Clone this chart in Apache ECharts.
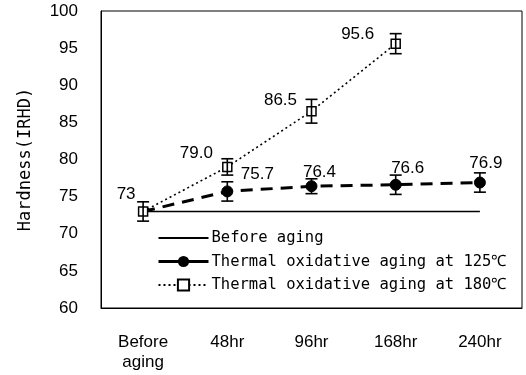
<!DOCTYPE html>
<html>
<head>
<meta charset="utf-8">
<script src="https://cdn.jsdelivr.net/npm/echarts@6/dist/echarts.min.js"></script>
<style>
  html, body { margin: 0; padding: 0; background: #fff; }
  #chart { width: 526px; height: 375px; }
</style>
</head>
<body>
<div id="chart"></div>
<script>
  // data
  var categories = ['Before\naging', '48hr', '96hr', '168hr', '240hr'];
  var before = [73, 73, 73, 73, 73];
  var aging125 = [73, 75.7, 76.4, 76.6, 76.9];
  var aging180 = [73, 79.0, 86.5, 95.6, null];
  var err125 = [1.3, 1.3, 1.0, 1.3, 1.3];
  var err180 = [1.3, 1.1, 1.6, 1.35, null];
  var yTicks = [60, 65, 70, 75, 80, 85, 90, 95, 100];

  // label placement (style, not data)
  var off125 = [null, [30, 2], [8, 6], [12, 3], [6, 0]];
  var off180 = [[-17, 2], [-31, 5], [-31, 8], [-38, 9], null];

  var chart = echarts.init(document.getElementById('chart'));
  var numFont = 'Liberation Sans, Arial, sans-serif';
  var txtFont = 'DejaVu Sans Mono, monospace';

  function errData(vals, errs, skipFirst) {
    var out = [];
    for (var i = 0; i < vals.length; i++) {
      if (vals[i] == null || errs[i] == null) continue;
      if (skipFirst && i === 0) continue;
      out.push([i, vals[i] - errs[i], vals[i] + errs[i]]);
    }
    return out;
  }

  function renderErr(params, api) {
    var lo = api.coord([api.value(0), api.value(1)]);
    var hi = api.coord([api.value(0), api.value(2)]);
    var w = 6;
    var st = { stroke: '#000', lineWidth: 1.6 };
    return {
      type: 'group',
      children: [
        { type: 'line', shape: { x1: lo[0], y1: lo[1], x2: hi[0], y2: hi[1] }, style: st },
        { type: 'line', shape: { x1: lo[0] - w, y1: lo[1], x2: lo[0] + w, y2: lo[1] }, style: st },
        { type: 'line', shape: { x1: hi[0] - w, y1: hi[1], x2: hi[0] + w, y2: hi[1] }, style: st }
      ]
    };
  }

  function labelled(vals, offs, digits0) {
    return vals.map(function (v, i) {
      if (v == null) return null;
      var o = offs[i];
      if (!o) return { value: v, label: { show: false } };
      return {
        value: v,
        label: {
          show: true, position: 'top', offset: o,
          formatter: (i === 0 && digits0) ? String(v) : v.toFixed(1)
        }
      };
    });
  }

  var option = {
    animation: false,
    backgroundColor: '#fff',
    grid: { left: 101, right: 4, top: 11, bottom: 67, show: true, borderColor: '#000', borderWidth: 1 },
    legend: {
      orient: 'vertical',
      left: 157, top: 230, padding: 0,
      itemWidth: 50, itemHeight: 14, itemGap: 7.5,
      textStyle: { fontFamily: txtFont, fontSize: 15.5, color: '#000', padding: [0, 0, 0, -2] },
      data: [
        { name: 'Before aging', itemStyle: { opacity: 0 } },
        { name: 'Thermal oxidative aging at 125\u2103', lineStyle: { type: 'solid', width: 3 } },
        'Thermal oxidative aging at 180\u2103'
      ]
    },
    xAxis: {
      type: 'category',
      data: categories,
      boundaryGap: true,
      axisLine: { lineStyle: { color: '#000', width: 1 } },
      axisTick: { inside: true, length: 5, lineStyle: { color: '#000' } },
      axisLabel: { margin: 24, fontFamily: numFont, fontSize: 17, color: '#000', lineHeight: 20, interval: 0 }
    },
    yAxis: {
      type: 'value',
      min: yTicks[0], max: yTicks[yTicks.length - 1], interval: 5,
      name: 'Hardness(IRHD)',
      nameLocation: 'middle', nameGap: 67,
      nameTextStyle: { fontFamily: txtFont, fontSize: 17, color: '#000' },
      axisLine: { show: true, lineStyle: { color: '#000', width: 1 } },
      axisTick: { inside: true, length: 5, lineStyle: { color: '#000' } },
      splitLine: { show: false },
      axisLabel: { margin: 23, fontFamily: numFont, fontSize: 17, color: '#000' }
    },
    series: [
      {
        name: 'Before aging', type: 'line', data: before,
        symbol: 'none', showSymbol: false,
        lineStyle: { color: '#000', width: 1.6, type: 'solid' },
        itemStyle: { color: '#000' }, z: 2
      },
      {
        name: 'Thermal oxidative aging at 125\u2103', type: 'line',
        data: labelled(aging125, off125, false),
        symbol: function (v, p) { return p.dataIndex === 0 ? 'none' : 'circle'; },
        symbolSize: 11,
        lineStyle: { color: '#000', width: 3, type: [12, 8] },
        itemStyle: { color: '#000', borderColor: '#000' },
        label: { fontFamily: numFont, fontSize: 17, color: '#000' },
        z: 3
      },
      {
        name: 'Thermal oxidative aging at 180\u2103', type: 'line',
        data: labelled(aging180, off180, true),
        symbol: 'rect', symbolSize: 9,
        lineStyle: { color: '#000', width: 1.6, type: [2, 3] },
        itemStyle: { color: '#fff', borderColor: '#000', borderWidth: 1.5 },
        label: { fontFamily: numFont, fontSize: 17, color: '#000' },
        z: 4
      },
      {
        type: 'custom', renderItem: renderErr, z: 5,
        data: errData(aging125, err125, true), silent: true
      },
      {
        type: 'custom', renderItem: renderErr, z: 5,
        data: errData(aging180, err180, false), silent: true
      }
    ]
  };

  chart.setOption(option);
</script>
</body>
</html>
